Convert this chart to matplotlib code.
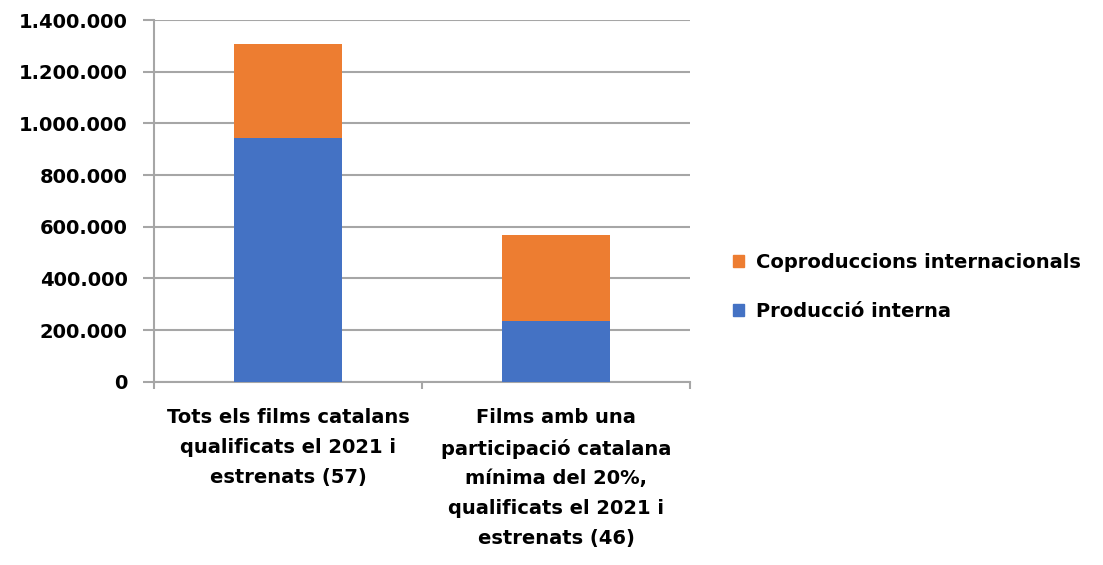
import matplotlib
matplotlib.use("Agg")
import matplotlib.pyplot as plt
from matplotlib.ticker import FuncFormatter, FixedLocator
from matplotlib.patches import Patch

categories = [
    "Tots els films catalans\nqualificats el 2021 i\nestrenats (57)",
    "Films amb una\nparticipació catalana\nmínima del 20%,\nqualificats el 2021 i\nestrenats (46)",
]
produccio_interna = [942000, 235000]
coproduccions = [365000, 333000]
series_names = ["Producció interna", "Coproduccions internacionals"]
yticks = [0, 200000, 400000, 600000, 800000, 1000000, 1200000, 1400000]

blue = "#4472C4"
orange = "#ED7D31"
grid_c = "#A6A6A6"

fig = plt.figure(figsize=(11.03, 5.65), dpi=100)
ax = fig.add_axes([154/1103, 1-381.7/565, (690-154)/1103, (381.7-20)/565])

x = list(range(len(categories)))
ax.bar(x, produccio_interna, width=0.40, color=blue, zorder=3)
ax.bar(x, coproduccions, width=0.40, bottom=produccio_interna, color=orange, zorder=3)

ax.set_xlim(-0.5, 1.5)
ax.set_ylim(0, 1400000)
ax.set_yticks(yticks)
ax.yaxis.set_major_formatter(FuncFormatter(lambda v, p: f"{int(v):,}".replace(",", ".")))
ax.grid(axis="y", color=grid_c, linewidth=1.5, zorder=0)
ax.tick_params(axis="y", length=8, width=1.5, color=grid_c, pad=11, labelsize=14)
for lab in ax.get_yticklabels():
    lab.set_fontweight("bold")

ax.set_xticks(x)
ax.set_xticklabels(categories, fontsize=14, fontweight="bold", linespacing=1.72)
ax.tick_params(axis="x", which="major", length=0, pad=19)
ax.xaxis.set_minor_locator(FixedLocator([-0.5, 0.5, 1.5]))
ax.tick_params(axis="x", which="minor", length=5, width=1.5, color=grid_c)

for s in ["top", "right"]:
    ax.spines[s].set_visible(False)
for s in ["left", "bottom"]:
    ax.spines[s].set_color(grid_c)
    ax.spines[s].set_linewidth(1.5)

handles = [Patch(color=orange, label=series_names[1]), Patch(color=blue, label=series_names[0])]
fig.legend(handles=handles, loc="center left", bbox_to_anchor=(715/1103, 1-287/565),
           frameon=False, prop={"weight": "bold", "size": 14},
           handlelength=0.6, handleheight=0.6, handletextpad=0.6, labelspacing=1.55)

fig.savefig("out.png", dpi=100)
